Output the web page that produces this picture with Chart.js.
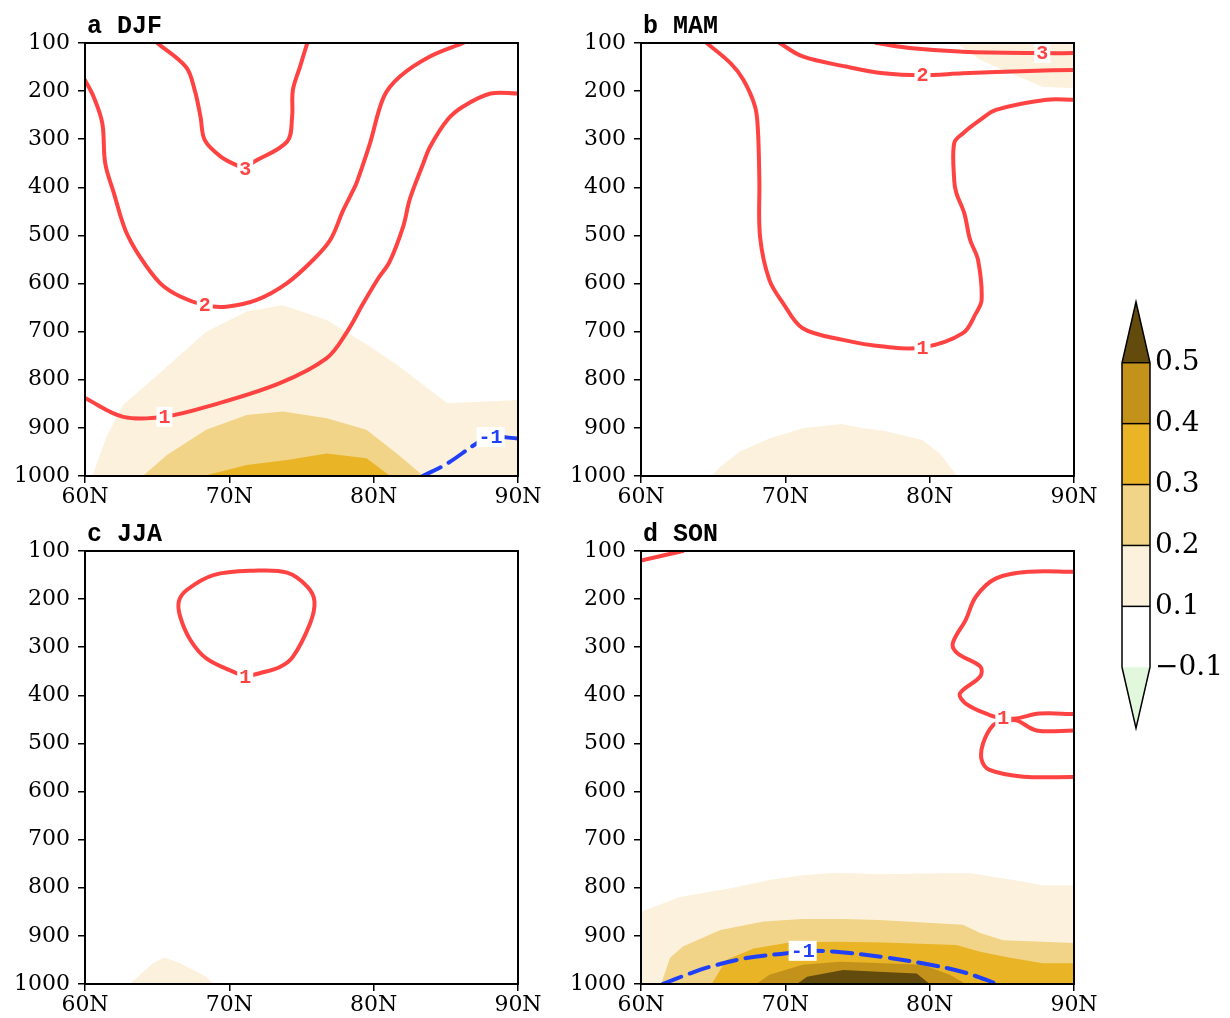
<!DOCTYPE html>
<html lang="en">
<head>
<meta charset="UTF-8">
<title>Seasonal cross sections 60N-90N</title>
<script src="https://cdn.jsdelivr.net/npm/chart.js"></script>
<style>
  body { margin: 0; background: #fff; }
  #wrap { position: relative; width: 1230px; height: 1018px; overflow: hidden; }
  canvas { position: absolute; }
</style>
</head>
<body>
<div id="wrap">
  <canvas id="djf" width="533" height="510" style="left:15px;top:0"></canvas>
  <canvas id="mam" width="533" height="510" style="left:571px;top:0"></canvas>
  <canvas id="jja" width="533" height="510" style="left:15px;top:508px"></canvas>
  <canvas id="son" width="533" height="510" style="left:571px;top:508px"></canvas>
  <canvas id="cbar" width="130" height="470" style="left:1100px;top:280px"></canvas>
</div>

<script>
// axes
const latTicks = [60, 70, 80, 90];
const presTicks = [100, 200, 300, 400, 500, 600, 700, 800, 900, 1000];

// colour levels: <-0.1, -0.1..0.1, 0.1..0.2, 0.2..0.3, 0.3..0.4, 0.4..0.5, >0.5
const cbLevels = ['\u22120.1', '0.1', '0.2', '0.3', '0.4', '0.5'];
const shadeColors = ['#E1F8DD', '#FFFFFF', '#FCF1DC', '#F1D487', '#E9B425', '#C3921A', '#634B0D'];
const posColor = '#FF4242';
const negColor = '#2040F8';

// ---- a DJF  ([lat, hPa]) ----
const djfShade1 = [[60.5,1000],[61.5,918],[62.65,852],[65.4,780],[68.4,700],[71.2,658],[73.7,645],[76.75,676],[79.75,731],[81.8,773],[85.1,849],[90,842]];
const djfShade2 = [[64.0,1000],[65.7,956],[68.4,904],[71.2,873],[73.7,866],[76.75,880],[79.5,904],[81.6,953],[83.45,1000]];
const djfShade3 = [[68.2,1000],[71.2,977],[74.0,967],[76.75,953],[79.5,963],[81.15,1000]];
const djfPos3 = [[65.0,100],[67.0,150],[67.6,198],[68.0,253],[68.3,302],[69.4,336],[70.7,357],[71.1,361],[71.6,349],[74.0,305],[74.35,253],[74.4,198],[74.9,149],[75.4,100]];
const djfPos2 = [[60,177],[60.6,212],[61.2,267],[61.4,350],[62.0,412],[62.8,489],[63.8,544],[65.2,599],[66.6,627],[68.3,645],[69.8,648],[71.9,634],[74.0,599],[75.8,551],[77.0,509],[77.9,447],[78.6,405],[78.85,388],[79.75,308],[80.7,212],[81.8,170],[83.9,128],[86.2,100]];
const djfPos1 = [[60,838],[62.65,877],[65.5,877],[68.9,852],[73.5,807],[76.75,755],[78.1,703],[79.3,640],[80.3,590],[81.1,555],[82.06,480],[82.5,425],[83.44,350],[83.9,316],[85.1,260],[86.2,232],[88.1,205],[90,205]];
const djfNeg1 = [[83.4,1000],[85.1,974],[87.15,932],[88.1,919],[90,922]];
const djfLabels = [[71.1,361,'3',posColor],[68.3,645,'2',posColor],[65.5,877,'1',posColor],[88.1,919,'-1',negColor]];

// ---- b MAM ----
const mamShadeTop = [[81.85,100],[83.5,135],[85.1,156],[87.8,191],[90,194]];
const mamShade1 = [[64.9,1000],[65.5,981],[66.85,949],[68.9,922],[71.2,901],[73.9,892],[75.4,901],[76.8,906],[79.5,925],[80.7,953],[81.9,1000]];
const mamPos1 = [[64.55,100],[66.2,142],[67.1,177],[67.9,232],[68.1,281],[68.2,385],[68.25,503],[68.9,593],[69.85,641],[71.2,693],[74.0,717],[76.8,731],[79.5,733],[82.3,703],[83.2,662],[83.6,634],[83.35,551],[82.8,509],[82.4,454],[81.85,412],[81.7,385],[81.7,308],[82.3,288],[83.5,260],[84.6,239],[88.1,218],[90,218]];
const mamPos2 = [[69.6,100],[71.2,128],[74.2,149],[76.8,163],[79.5,167],[82.3,163],[86.9,158],[90,156]];
const mamPos3 = [[76.3,100],[78.8,111],[82.3,118],[87.8,121],[90,121]];
const mamLabels = [[79.5,733,'1',posColor],[79.5,167,'2',posColor],[87.8,121,'3',posColor]];

// ---- c JJA ----
const jjaShade1 = [[63.1,1000],[64.7,957],[65.5,945],[66.6,957],[68.4,985],[68.9,1000]];
const jjaPos1 = [[71.1,361],[70.5,354],[68.4,323],[67.3,285],[66.6,237],[66.5,205],[67.05,181],[68.9,150],[71.7,141],[74.0,145],[75.4,174],[75.9,205],[75.6,250],[74.4,320],[73.5,341],[72.1,354],[71.1,361]];
const jjaLabels = [[71.1,361,'1',posColor]];

// ---- d SON ----
const sonShade1 = [[60,850],[62.7,819],[66.2,801],[68.9,784],[71.2,774],[73.5,769],[76.5,772],[81.2,770],[82.8,770],[85.8,784],[87.8,795],[90,795]];
const sonShade2 = [[61.4,1000],[62.0,946],[62.9,922],[65.5,888],[68.5,870],[71.2,865],[74.0,865],[76.5,867],[82.3,877],[83.5,894],[85.1,909],[87.8,912],[90,915]];
const sonShade3 = [[64.9,1000],[65.9,950],[67.8,926],[70.3,914],[73.5,912],[76.8,914],[81.85,919],[83.5,933],[85.3,944],[87.8,957],[90,957]];
const sonShade4 = [[68.0,1000],[68.9,981],[71.2,960],[73.8,954],[76.8,957],[79.5,960],[81.4,981],[82.5,1000]];
const sonShade5 = [[70.8,1000],[71.5,985],[74.0,971],[76.8,975],[79.1,978],[80.0,1000]];
const sonPosCorner = [[60,120],[62.9,100]];
const sonPosUpper = [[90,143],[86.9,143],[84.6,157],[83.2,195],[82.5,243],[81.6,292],[81.95,313],[83.5,340],[83.5,361],[82.1,396],[82.5,417],[84.15,441],[85.1,448],[86.0,448],[87.6,438],[90,439]];
const sonPosLower = [[90,473],[87.4,473],[86.0,452],[85.1,455],[84.4,462],[83.7,500],[83.6,534],[84.15,555],[86.5,569],[90,570]];
const sonNeg1 = [[61.5,1000],[63.4,978],[64.8,964],[67.3,946],[70.1,936],[71.2,931],[73.5,933],[76.8,944],[79.5,957],[82.3,975],[84.7,1000]];
const sonLabels = [[85.1,448,'1',posColor],[71.2,931,'-1',negColor]];

const toXY = pts => pts.map(p => ({x: p[0], y: p[1]}));

const contourPlugin = {
  id: 'contour',
  afterDatasetsDraw(chart, args, opts) {
    const {ctx, chartArea: a} = chart;
    const xs = chart.scales.x, ys = chart.scales.y;
    ctx.save();
    ctx.font = 'bold 20px "Liberation Mono"';
    ctx.textAlign = 'center';
    ctx.textBaseline = 'middle';
    (opts.labels || []).forEach(([lat, p, txt, col]) => {
      const px = xs.getPixelForValue(lat), py = ys.getPixelForValue(p);
      const w = ctx.measureText(txt).width + 4;
      ctx.fillStyle = '#fff';
      ctx.fillRect(px - w / 2, py - 10, w, 20);
      ctx.fillStyle = col;
      ctx.fillText(txt, px, py + 1);
    });
    ctx.lineWidth = 2;
    ctx.strokeStyle = '#000';
    ctx.strokeRect(a.left, a.top, a.right - a.left, a.bottom - a.top);
    ctx.font = 'bold 25px "Liberation Mono"';
    ctx.textAlign = 'left';
    ctx.textBaseline = 'alphabetic';
    ctx.fillStyle = '#000';
    ctx.fillText(opts.title, a.left + 2, a.top - 10);
    ctx.restore();
  }
};

function makePanel(id, title, shades, lines, labels) {
  const datasets = [];
  lines.forEach(l => datasets.push({
    data: toXY(l.pts),
    borderColor: l.color,
    borderWidth: 4,
    borderDash: l.dash || [],
    borderCapStyle: 'round',
    pointRadius: 0,
    tension: 0.35,
    fill: false,
    order: 0
  }));
  shades.forEach(s => datasets.push({
    data: toXY(s.pts),
    borderWidth: 0,
    borderColor: 'rgba(0,0,0,0)',
    backgroundColor: shadeColors[s.lev],
    pointRadius: 0,
    tension: 0,
    fill: {value: s.to},
    order: 10 - s.lev
  }));

  const tickFont = {family: 'DejaVu Serif', size: 22};
  new Chart(document.getElementById(id), {
    type: 'line',
    data: {datasets},
    options: {
      responsive: false,
      animation: false,
      events: [],
      layout: {padding: {top: 43, right: 30, bottom: 4, left: 0}},
      plugins: {
        legend: {display: false},
        tooltip: {enabled: false},
        contour: {title, labels}
      },
      scales: {
        x: {
          type: 'linear', min: 60, max: 90,
          afterBuildTicks: s => { s.ticks = latTicks.map(v => ({value: v})); },
          afterFit: s => { s.height = 30; },
          ticks: {callback: v => v + 'N', font: tickFont, color: '#000', padding: 1, maxRotation: 0, autoSkip: false},
          grid: {drawOnChartArea: false, tickLength: 7, color: '#000', lineWidth: 1.5},
          border: {color: '#000', width: 2}
        },
        y: {
          type: 'linear', min: 100, max: 1000, reverse: true,
          afterBuildTicks: s => { s.ticks = presTicks.map(v => ({value: v})); },
          afterFit: s => { s.width = 70; },
          ticks: {callback: v => String(v), font: tickFont, color: '#000', padding: 8, autoSkip: false},
          grid: {drawOnChartArea: false, tickLength: 7, color: '#000', lineWidth: 1.5},
          border: {color: '#000', width: 2}
        }
      }
    },
    plugins: [contourPlugin]
  });
}

makePanel('djf', 'a DJF',
  [{pts: djfShade1, lev: 2, to: 1000}, {pts: djfShade2, lev: 3, to: 1000}, {pts: djfShade3, lev: 4, to: 1000}],
  [{pts: djfPos3, color: posColor}, {pts: djfPos2, color: posColor}, {pts: djfPos1, color: posColor},
   {pts: djfNeg1, color: negColor, dash: [20, 9]}],
  djfLabels);

makePanel('mam', 'b MAM',
  [{pts: mamShadeTop, lev: 2, to: 100}, {pts: mamShade1, lev: 2, to: 1000}],
  [{pts: mamPos1, color: posColor}, {pts: mamPos2, color: posColor}, {pts: mamPos3, color: posColor}],
  mamLabels);

makePanel('jja', 'c JJA',
  [{pts: jjaShade1, lev: 2, to: 1000}],
  [{pts: jjaPos1, color: posColor}],
  jjaLabels);

makePanel('son', 'd SON',
  [{pts: sonShade1, lev: 2, to: 1000}, {pts: sonShade2, lev: 3, to: 1000}, {pts: sonShade3, lev: 4, to: 1000},
   {pts: sonShade4, lev: 5, to: 1000}, {pts: sonShade5, lev: 6, to: 1000}],
  [{pts: sonPosCorner, color: posColor}, {pts: sonPosUpper, color: posColor}, {pts: sonPosLower, color: posColor},
   {pts: sonNeg1, color: negColor, dash: [20, 9]}],
  sonLabels);

// ---- colour bar: index scale, boundaries at 0..5, triangles reach -1 and 6 ----
const cbSets = [];
cbSets.push({data: toXY([[0,0],[0,5],[0.5,6],[1,5],[1,0],[0.5,-1],[0,0]]), borderColor: '#000', borderWidth: 1.5,
  pointRadius: 0, fill: false, clip: false, order: 0});
cbSets.push({data: toXY([[0,0],[0.5,-1],[1,0]]), borderWidth: 0, borderColor: 'rgba(0,0,0,0)',
  backgroundColor: shadeColors[0], pointRadius: 0, fill: {value: 0}, clip: false, order: 5});
for (let i = 0; i < 5; i++) {
  cbSets.push({data: toXY([[0,i + 1],[1,i + 1]]), borderColor: '#000', borderWidth: 1.5,
    backgroundColor: shadeColors[i + 1], pointRadius: 0, fill: {value: i}, clip: false, order: 5});
}
cbSets.push({data: toXY([[0,5],[0.5,6],[1,5]]), borderWidth: 0, borderColor: 'rgba(0,0,0,0)',
  backgroundColor: shadeColors[6], pointRadius: 0, fill: {value: 5}, clip: false, order: 5});

new Chart(document.getElementById('cbar'), {
  type: 'line',
  data: {datasets: cbSets},
  options: {
    responsive: false,
    animation: false,
    events: [],
    layout: {padding: {top: 15, right: 0, bottom: 20, left: 22}},
    plugins: {legend: {display: false}, tooltip: {enabled: false}},
    scales: {
      x: {type: 'linear', min: 0, max: 1, display: false},
      y: {
        type: 'linear', position: 'right', min: -1, max: 6,
        afterBuildTicks: s => { s.ticks = cbLevels.map((_, i) => ({value: i})); },
        afterFit: s => { s.width = 80; },
        ticks: {callback: v => cbLevels[v], font: {family: 'DejaVu Serif', size: 28}, color: '#000', padding: 5, autoSkip: false},
        grid: {display: false, drawTicks: false},
        border: {display: false}
      }
    }
  }
});
</script>
</body>
</html>
